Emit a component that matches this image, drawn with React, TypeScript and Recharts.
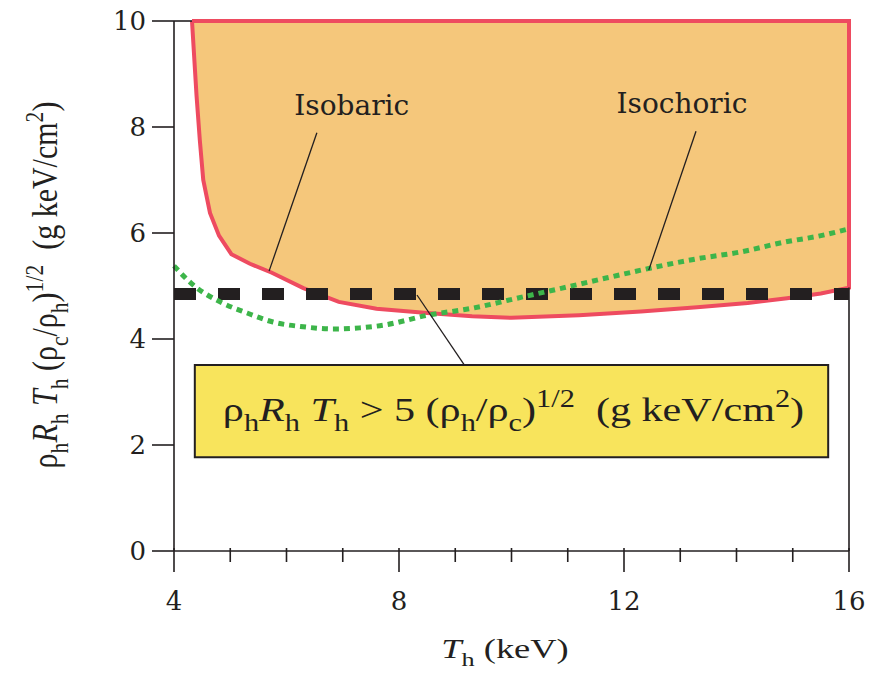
import React from 'react';
import {
  ComposedChart,
  XAxis,
  YAxis,
  Area,
  Line,
  ReferenceLine,
  ReferenceArea,
  ReferenceDot,
} from 'recharts';

// axis ticks
const xTicks = [4, 5, 6, 7, 8, 9, 10, 11, 12, 13, 14, 15, 16];
const xMajor = [4, 8, 12, 16];
const yTicks = [0, 2, 4, 6, 8, 10];

// ignition boundary (isobaric)
const boundaryT = [4.32, 4.4, 4.46, 4.52, 4.64, 4.8, 5.02, 5.35, 5.74, 6.3, 6.93, 7.6, 8.5, 9.3, 10.0, 11.2, 12.3, 13.3, 14.2, 14.9, 15.5, 16];
const boundaryV = [10, 8.6, 7.74, 7.0, 6.38, 5.95, 5.6, 5.42, 5.25, 4.96, 4.7, 4.57, 4.49, 4.43, 4.4, 4.45, 4.52, 4.6, 4.68, 4.77, 4.86, 4.97];

// isochoric curve (green dotted)
const isochoricT = [4, 4.34, 4.82, 5.3, 5.76, 6.3, 6.84, 7.3, 7.72, 8.52, 9.3, 10.1, 10.9, 11.68, 12.48, 13.28, 14.06, 14.86, 15.5, 16];
const isochoricV = [5.38, 5.02, 4.7, 4.49, 4.32, 4.23, 4.19, 4.21, 4.26, 4.45, 4.58, 4.77, 4.96, 5.15, 5.34, 5.51, 5.64, 5.83, 5.95, 6.08];

// the 5 (rho_h/rho_c)^1/2 threshold
const threshold = 4.85;

const INK = '#231f20';
const SERIF = '"Liberation Serif", "Times New Roman", serif';
const WIDE = '"DejaVu Serif", serif';

const regionData = boundaryT.map((t, i) => ({ t, v: boundaryV[i] }));
const outlineData = [...regionData, { t: 16, v: 10 }, { t: boundaryT[0], v: 10 }];
const greenData = isochoricT.map((t, i) => ({ t, v: isochoricV[i] }));

type Seg = { t: string; sub?: boolean; sup?: boolean; it?: boolean };

// text with sub/superscripts; the source figure is stretched sideways, hence sx/sy
function Rich({ segs, size, x, y, sx = 1, sy = 1, rot = 0, anchor = 'middle' }: {
  segs: Seg[]; size: number; x: number; y: number; sx?: number; sy?: number; rot?: number; anchor?: string;
}) {
  let shift = 0;
  return (
    <g transform={`translate(${x} ${y}) rotate(${rot}) scale(${sx} ${sy})`}>
      <text x={0} y={0} textAnchor={anchor} fontFamily={SERIF} fill={INK} fontSize={size} style={{ whiteSpace: 'pre' }}>
        {segs.map((s, i) => {
          const target = s.sub ? size * 0.3 : s.sup ? -size * 0.4 : 0;
          const dy = target - shift;
          shift = target;
          return (
            <tspan key={i} dy={dy} fontSize={s.sub || s.sup ? size * 0.72 : size} fontStyle={s.it ? 'italic' : undefined}>
              {s.t}
            </tspan>
          );
        })}
      </text>
    </g>
  );
}

const boxSegs: Seg[] = [
  { t: 'ρ' }, { t: 'h', sub: true }, { t: 'R', it: true }, { t: 'h', sub: true }, { t: ' ' },
  { t: 'T', it: true }, { t: 'h', sub: true }, { t: ' > 5 (ρ' }, { t: 'h', sub: true }, { t: '/ρ' },
  { t: 'c', sub: true }, { t: ')' }, { t: '1/2', sup: true }, { t: '  (g keV/cm' }, { t: '2', sup: true }, { t: ')' },
];

const yLabelSegs: Seg[] = [
  { t: 'ρ' }, { t: 'h', sub: true }, { t: 'R', it: true }, { t: 'h', sub: true }, { t: ' ' },
  { t: 'T', it: true }, { t: 'h', sub: true }, { t: ' (ρ' }, { t: 'c', sub: true }, { t: '/ρ' },
  { t: 'h', sub: true }, { t: ')' }, { t: '1/2', sup: true }, { t: '  (g keV/cm' }, { t: '2', sup: true }, { t: ')' },
];

const xLabelSegs: Seg[] = [{ t: 'T', it: true }, { t: 'h', sub: true }, { t: ' (keV)' }];

function XTick(props: any) {
  const { x, y, payload } = props;
  const major = xMajor.includes(payload.value);
  return (
    <g>
      <line x1={x} x2={x} y1={y - 3} y2={y + (major ? 21 : 11)} stroke={INK} strokeWidth={1.6} />
      {major && (
        <text x={x} y={y + 59} textAnchor="middle" fontFamily={WIDE} fontSize={26} fill={INK}>
          {payload.value}
        </text>
      )}
    </g>
  );
}

export default function App() {
  return (
    <div style={{ position: 'absolute', left: 0, top: 0, background: '#fff' }}>
      <ComposedChart width={877} height={675} margin={{ top: 21, right: 28, bottom: 64, left: 114 }}>
        <XAxis
          type="number"
          dataKey="t"
          domain={[4, 16]}
          ticks={xTicks}
          interval={0}
          stroke={INK}
          strokeWidth={1.6}
          tickLine={false}
          tickSize={0}
          tickMargin={0}
          tick={<XTick />}
          height={60}
          label={{ content: () => <Rich segs={xLabelSegs} size={27} x={505} y={658} sx={1.35} /> }}
        />
        <YAxis
          type="number"
          domain={[0, 10]}
          ticks={yTicks}
          interval={0}
          width={60}
          stroke={INK}
          strokeWidth={1.6}
          tickSize={22}
          tickMargin={6}
          tickLine={{ stroke: INK, strokeWidth: 1.6 }}
          tick={{ fill: INK, fontSize: 26, fontFamily: WIDE }}
          label={{ content: () => <Rich segs={yLabelSegs} size={30} x={57} y={285} rot={-90} sy={1.2} /> }}
        />

        <Area
          data={regionData}
          dataKey="v"
          type="linear"
          baseValue={10}
          fill="#F5C77B"
          fillOpacity={1}
          stroke="none"
          isAnimationActive={false}
        />
        <Line
          data={outlineData}
          dataKey="v"
          type="linear"
          stroke="#EE4B60"
          strokeWidth={4}
          dot={false}
          isAnimationActive={false}
        />

        <ReferenceLine segment={[{ x: 4, y: 10 }, { x: boundaryT[0], y: 10 }]} stroke={INK} strokeWidth={1.6} />
        <ReferenceLine segment={[{ x: 16, y: 0 }, { x: 16, y: boundaryV[boundaryV.length - 1] }]} stroke={INK} strokeWidth={1.6} />

        <ReferenceLine y={threshold} stroke={INK} strokeWidth={12} strokeDasharray="22 22" />

        <Line
          data={greenData}
          dataKey="v"
          type="monotone"
          stroke="#3DB54A"
          strokeWidth={5}
          strokeDasharray="6 5"
          dot={false}
          isAnimationActive={false}
        />

        {/* leader lines */}
        <ReferenceLine segment={[{ x: 6.54, y: 7.89 }, { x: 5.69, y: 5.28 }]} stroke={INK} strokeWidth={1.3} />
        <ReferenceLine segment={[{ x: 13.28, y: 7.92 }, { x: 12.44, y: 5.3 }]} stroke={INK} strokeWidth={1.3} />
        <ReferenceLine segment={[{ x: 8.32, y: 4.83 }, { x: 9.16, y: 3.51 }]} stroke={INK} strokeWidth={1.3} />

        <ReferenceDot
          x={7.16}
          y={8.42}
          r={0}
          fill="none"
          stroke="none"
          label={{ value: 'Isobaric', position: 'center', fontSize: 28, fontFamily: WIDE, fill: INK }}
        />
        <ReferenceDot
          x={13.03}
          y={8.45}
          r={0}
          fill="none"
          stroke="none"
          label={{ value: 'Isochoric', position: 'center', fontSize: 28, fontFamily: WIDE, fill: INK }}
        />

        <ReferenceArea
          x1={4.37}
          x2={15.63}
          y1={1.77}
          y2={3.51}
          fill="#F8E45C"
          fillOpacity={1}
          stroke={INK}
          strokeWidth={2}
          label={{
            content: (p: any) => {
              const vb = p.viewBox || { x: 195, y: 368, width: 633, height: 89 };
              return <Rich segs={boxSegs} size={34} x={vb.x + vb.width / 2 + 2} y={vb.y + vb.height / 2 + 10} sx={1.24} />;
            },
          }}
        />
      </ComposedChart>
    </div>
  );
}
